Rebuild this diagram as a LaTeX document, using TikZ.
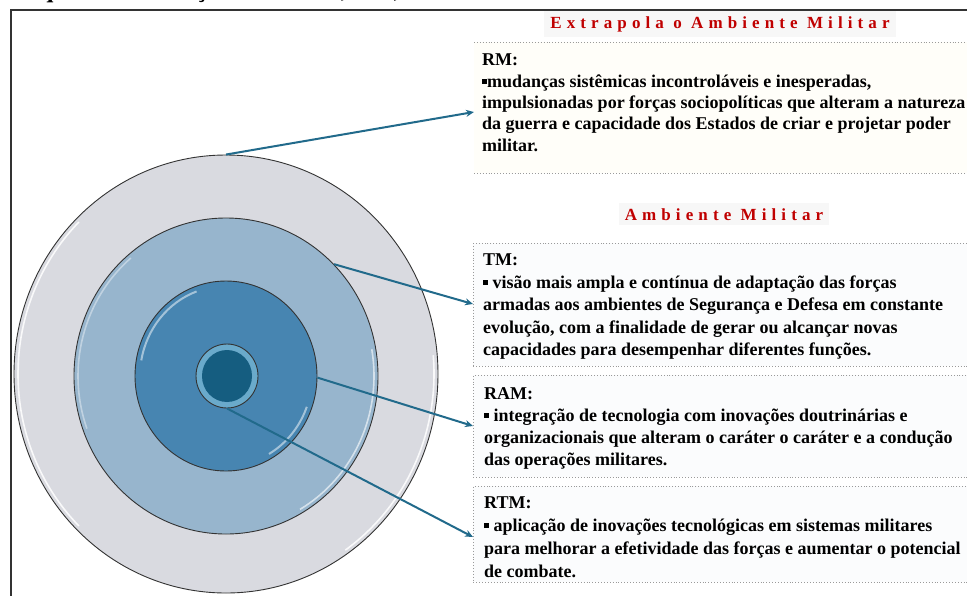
\documentclass[tikz,border=0pt]{standalone}
\usepackage{fontspec}
\setmainfont{Liberation Serif}
\usetikzlibrary{shapes.geometric,arrows.meta}
\definecolor{outerc}{HTML}{D9DAE0}
\definecolor{secondc}{HTML}{97B5CD}
\definecolor{thirdc}{HTML}{4785B1}
\definecolor{innerring}{HTML}{6AAACB}
\definecolor{innercore}{HTML}{155D80}
\definecolor{arrowc}{HTML}{216A8B}
\definecolor{headred}{HTML}{C00000}
\definecolor{rmfill}{HTML}{FFFEF9}
\definecolor{boxfill}{HTML}{FBFCFD}
\definecolor{dotc}{HTML}{9A9A9A}
\newcommand{\sqb}{\rule[3.5pt]{5pt}{5pt}}
\newfontfamily\headfont[LetterSpace=30]{Liberation Serif}
\begin{document}
\begin{tikzpicture}[x=1pt,y=-1pt,
  ring/.style={ellipse, draw=black!80, line width=0.9pt, inner sep=0pt},
  hilite/.style={white, line width=1.6pt, opacity=0.85},
  heading/.style={font=\headfont\bfseries\fontsize{17}{20}\selectfont,
    text=headred, fill=black!3, inner xsep=6pt, inner ysep=5pt},
  infobox/.style={draw=dotc, dotted, line width=0.9pt, anchor=north west, minimum width=510pt, inner sep=0pt, fill=boxfill},
  infotext/.style={anchor=north west, align=left, inner sep=0pt,
    font=\bfseries\fontsize{18}{22}\selectfont},
  conn/.style={arrowc, line width=2pt, -{Stealth[length=8pt,width=7pt]}}
]
\useasboundingbox (0,0) rectangle (967,595);
\fill[white] (0,0) rectangle (967,595);

% caption (cut by the top edge, as in the reference)
\node[anchor=base west, inner sep=0pt, font=\bfseries\fontsize{25}{30}\selectfont] (cap) at (13,-3)
  {Esquema 1: Relação entre RM, TM, RAM e RTM.};

% frame
\draw[line width=2pt, black!80] (11,600) -- (11,9.5) -- (975,9.5);

% rings
\node[ring, fill=outerc, minimum width=424pt, minimum height=438pt] (outer) at (226,374) {};
\draw[hilite] (226,374) ++(135:208 and 215) arc[start angle=135, end angle=225, x radius=208, y radius=215];
\draw[hilite] (226,374) ++(-5:208 and 215) arc[start angle=-5, end angle=55, x radius=208, y radius=215];
\node[ring, fill=secondc, minimum width=304pt, minimum height=316pt] (second) at (226,376) {};
\draw[hilite, opacity=0.6] (226,376) ++(-10:148 and 154) arc[start angle=-10, end angle=60, x radius=148, y radius=154];
\draw[hilite, opacity=0.4] (226,376) ++(160:148 and 154) arc[start angle=160, end angle=230, x radius=148, y radius=154];
\node[ring, fill=thirdc, minimum width=182pt, minimum height=190pt] (third) at (226,376) {};
\draw[hilite, opacity=0.5, line width=2pt] (226,376) ++(190:86 and 90) arc[start angle=190, end angle=250, x radius=86, y radius=90];
\draw[hilite, opacity=0.5, line width=2pt] (226,376) ++(20:86 and 90) arc[start angle=20, end angle=60, x radius=86, y radius=90];
\node[ring, fill=innerring, minimum width=62pt, minimum height=64pt] (inner) at (227,376) {};
\fill[innercore] (227,376) ellipse[x radius=25, y radius=26];

% headings
\node[heading, anchor=base] (h1) at (720,28) {Extrapola o Ambiente Militar};
\node[heading, anchor=base] (h2) at (724,220) {Ambiente Militar};

% boxes
\node[infobox, fill=rmfill, draw=none, minimum height=131pt] (rmbox) at (474,42) {};
\draw[dotc, dotted, line width=0.9pt] (rmbox.north west) -- (rmbox.north east);
\draw[dotc, dotted, line width=0.9pt] (rmbox.south west) -- (rmbox.south east);
\node[infobox, minimum height=123pt] (tmbox) at (473,243) {};
\node[infobox, minimum height=102pt] (rambox) at (473,375) {};
\node[infobox, minimum height=96pt] (rtmbox) at (473,486) {};

% texts
\node[infotext, font=\bfseries\fontsize{18}{21.3}\selectfont] (rmtext) at (482,54)
  {RM:\\\sqb mudanças sistêmicas incontroláveis e inesperadas,\\
   impulsionadas por forças sociopolíticas que alteram a natureza\\
   da guerra e capacidade dos Estados de criar e projetar poder\\
   militar.};
\node[infotext, font=\bfseries\fontsize{18}{22.5}\selectfont] (tmtext) at (483,254)
  {TM:\\\sqb{} visão mais ampla e contínua de adaptação das forças\\
   armadas aos ambientes de Segurança e Defesa em constante\\
   evolução, com a finalidade de gerar ou alcançar novas\\
   capacidades para desempenhar diferentes funções.};
\node[infotext, font=\bfseries\fontsize{18}{22.3}\selectfont] (ramtext) at (484,387)
  {RAM:\\\sqb{} integração de tecnologia com inovações doutrinárias e\\
   organizacionais que alteram o caráter o caráter e a condução\\
   das operações militares.};
\node[infotext, font=\bfseries\fontsize{18}{22.7}\selectfont] (rtmtext) at (484,497)
  {RTM:\\\sqb{} aplicação de inovações tecnológicas em sistemas militares\\
   para melhorar a efetividade das forças e aumentar o potencial\\
   de combate.};

% connectors
\coordinate (t1) at (rmbox.west |- 0,112);
\coordinate (t2) at (tmbox.west |- 0,304);
\coordinate (t3) at (rambox.west |- 0,426);
\coordinate (t4) at (rtmbox.west |- 0,537);
\draw[conn] (outer.north) -- (t1);
\draw[conn] (second.46) -- (t2);
\draw[conn] (third.-1) -- (t3);
\draw[conn] (inner.south) -- (t4);
\end{tikzpicture}
\end{document}
